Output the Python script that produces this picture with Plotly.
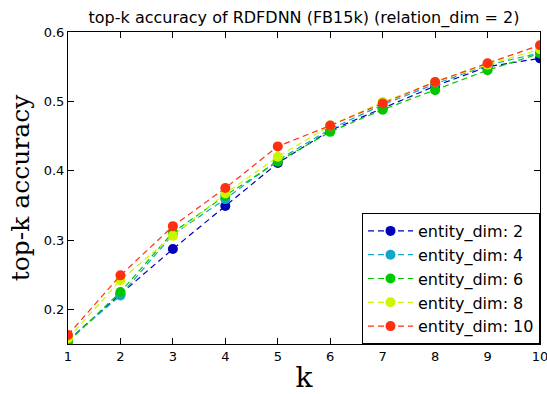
import plotly.graph_objects as go

k = [1, 2, 3, 4, 5, 6, 7, 8, 9, 10]
names = ["entity_dim: 2", "entity_dim: 4", "entity_dim: 6", "entity_dim: 8", "entity_dim: 10"]
acc_2 = [0.155, 0.222, 0.287, 0.349, 0.411, 0.458, 0.490, 0.522, 0.550, 0.562]
acc_4 = [0.155, 0.220, 0.308, 0.359, 0.415, 0.460, 0.495, 0.525, 0.552, 0.570]
acc_6 = [0.153, 0.225, 0.311, 0.364, 0.413, 0.456, 0.488, 0.516, 0.545, 0.569]
acc_8 = [0.158, 0.242, 0.306, 0.367, 0.420, 0.465, 0.499, 0.528, 0.553, 0.575]
acc_10 = [0.163, 0.249, 0.320, 0.375, 0.435, 0.465, 0.497, 0.528, 0.555, 0.581]
series = [acc_2, acc_4, acc_6, acc_8, acc_10]
colors = ["#0000b8", "#10a8c8", "#00c800", "#ccf500", "#ff3010"]

fig = go.Figure()
for i, (nm, ys, c) in enumerate(zip(names, series, colors)):
    fig.add_trace(go.Scatter(
        x=k, y=ys, name=nm, mode="lines+markers",
        line=dict(color=c, width=1.2, dash="6px,4px"),
        marker=dict(color=c, size=10, line=dict(width=0)),
    ))

axis_common = dict(
    showline=True, linecolor="black", linewidth=1, mirror="ticks",
    ticks="inside", ticklen=6, tickcolor="black", showgrid=False, zeroline=False,
    tickfont=dict(family="DejaVu Sans", size=13, color="black"),
    ticklabeloverflow="allow", automargin=False,
)
fig.update_layout(
    width=547, height=394,
    margin=dict(l=68, r=7, t=32, b=50),
    paper_bgcolor="white", plot_bgcolor="white",
    title=dict(text="top-k accuracy of RDFDNN (FB15k) (relation_dim = 2)",
               font=dict(family="DejaVu Sans", size=16, color="black"),
               x=0.5, xref="paper", xanchor="center", y=0.955, yanchor="middle"),
    xaxis=dict(range=[1, 10], tickvals=k,
               title=dict(text="k", font=dict(family="DejaVu Serif", size=28, color="black"), standoff=6),
               **axis_common),
    yaxis=dict(range=[0.15, 0.6], tickvals=[0.2, 0.3, 0.4, 0.5, 0.6],
               title=dict(text="top-k accuracy", font=dict(family="DejaVu Serif", size=25, color="black"), standoff=6),
               **axis_common),
    legend=dict(x=1, y=0, xanchor="right", yanchor="bottom", bordercolor="black", borderwidth=1,
                bgcolor="white", font=dict(family="DejaVu Sans", size=16, color="black"),
                itemwidth=45),
    showlegend=True,
)
fig.write_html("out.html")
